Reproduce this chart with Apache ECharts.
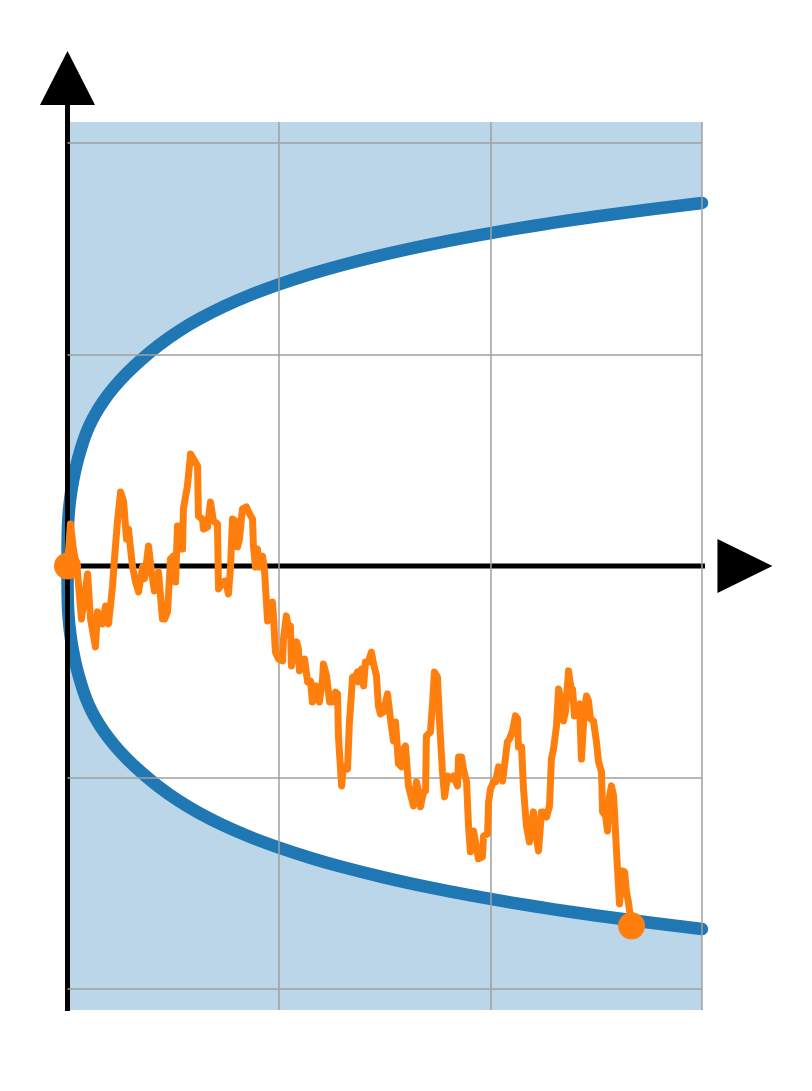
<!DOCTYPE html>
<html>
<head>
<meta charset="utf-8">
<script src="https://cdn.jsdelivr.net/npm/echarts/dist/echarts.min.js"></script>
<style>
  html, body { margin: 0; padding: 0; background: #ffffff; }
  #chart { width: 812px; height: 1091px; }
</style>
</head>
<body>
<div id="chart"></div>
<script>
// ---- data ----
const walkT = [0,0.014,0.028,0.047,0.066,0.095,0.109,0.132,0.142,0.165,0.180,0.194,0.213,0.222,0.236,0.251,0.265,0.279,0.288,0.307,0.322,0.336,0.355,0.364,0.383,0.397,0.411,0.430,0.449,0.459,0.473,0.487,0.501,0.511,0.520,0.534,0.544,0.548,0.567,0.582,0.596,0.615,0.619,0.638,0.643,0.662,0.676,0.690,0.709,0.714,0.733,0.747,0.761,0.771,0.780,0.794,0.804,0.813,0.827,0.846,0.856,0.875,0.879,0.889,0.898,0.908,0.922,0.931,0.946,0.969,0.974,0.983,0.998,1.017,1.021,1.035,1.045,1.054,1.059,1.069,1.083,1.092,1.097,1.111,1.121,1.135,1.149,1.158,1.173,1.187,1.191,1.206,1.210,1.225,1.234,1.239,1.253,1.267,1.277,1.281,1.296,1.305,1.324,1.333,1.348,1.362,1.371,1.376,1.390,1.400,1.409,1.423,1.437,1.447,1.461,1.470,1.480,1.494,1.513,1.527,1.541,1.551,1.565,1.579,1.589,1.598,1.612,1.636,1.650,1.660,1.669,1.683,1.693,1.697,1.716,1.726,1.735,1.749,1.759,1.773,1.783,1.797,1.811,1.825,1.844,1.849,1.863,1.872,1.887,1.896,1.905,1.920,1.929,1.943,1.962,1.967,1.986,1.991,2.000,2.014,2.024,2.038,2.057,2.066,2.080,2.090,2.104,2.118,2.128,2.132,2.147,2.156,2.170,2.184,2.203,2.213,2.227,2.241,2.251,2.265,2.279,2.288,2.298,2.312,2.322,2.336,2.345,2.355,2.369,2.383,2.388,2.397,2.411,2.421,2.430,2.444,2.454,2.463,2.473,2.487,2.501,2.511,2.525,2.530,2.544,2.553,2.563,2.572,2.582,2.596,2.610,2.624,2.634,2.643,2.652,2.667];
const walkW = [0,0.199,0.080,-0.028,-0.251,-0.038,-0.251,-0.383,-0.217,-0.274,-0.189,-0.274,-0.095,0.033,0.208,0.350,0.307,0.128,0.175,0,-0.076,-0.123,-0.005,-0.061,0.095,-0.028,-0.118,-0.028,-0.251,-0.251,-0.217,0.033,0.047,-0.076,0.189,0.189,0.080,0.270,0.378,0.530,0.506,0.473,0.236,0.222,0.175,0.184,0.303,0.213,0.199,-0.109,-0.076,-0.071,-0.132,0,0.222,0.213,0.090,0.128,0.270,0.279,0.255,0.222,0.095,-0.005,0.080,-0.005,0.047,-0.014,-0.260,-0.170,-0.236,-0.407,-0.440,-0.449,-0.345,-0.236,-0.298,-0.284,-0.473,-0.426,-0.359,-0.392,-0.496,-0.463,-0.440,-0.548,-0.544,-0.643,-0.567,-0.615,-0.643,-0.534,-0.463,-0.520,-0.525,-0.643,-0.643,-0.596,-0.605,-0.804,-1.040,-0.950,-0.960,-0.738,-0.525,-0.520,-0.501,-0.548,-0.487,-0.567,-0.454,-0.454,-0.407,-0.463,-0.520,-0.662,-0.700,-0.690,-0.605,-0.723,-0.827,-0.738,-0.936,-0.950,-0.865,-0.851,-1.040,-1.135,-1.021,-1.069,-1.139,-1.069,-1.064,-0.804,-0.785,-0.652,-0.501,-0.525,-0.738,-0.974,-1.092,-0.993,-1.007,-0.993,-1.040,-0.903,-0.903,-0.960,-1.021,-1.229,-1.352,-1.253,-1.305,-1.385,-1.376,-1.277,-1.267,-1.116,-1.054,-1.021,-1.021,-0.950,-1.017,-1.021,-0.832,-0.818,-0.780,-0.709,-0.723,-0.856,-0.856,-1.054,-1.229,-1.305,-1.163,-1.258,-1.348,-1.163,-1.163,-1.187,-1.135,-0.913,-0.865,-0.757,-0.582,-0.643,-0.733,-0.686,-0.496,-0.596,-0.582,-0.709,-0.662,-0.652,-0.913,-0.676,-0.615,-0.638,-0.723,-0.733,-0.832,-0.927,-0.974,-1.163,-1.182,-1.253,-1.087,-1.040,-1.087,-1.352,-1.598,-1.442,-1.447,-1.541,-1.589,-1.702];

// boundary curve (upper branch; lower branch is its mirror)
const boundaryT = [0,0.0005,0.002,0.005,0.01,0.02,0.035,0.05,0.075,0.1,0.13,0.17,0.22,0.28,0.35,0.43,0.52,0.62,0.74,0.87,1.0,1.15,1.3,1.5,1.7,1.9,2.1,2.3,2.5,2.75,3.0];
const boundaryV = [0,0.11,0.184,0.238,0.293,0.368,0.446,0.508,0.591,0.656,0.716,0.780,0.845,0.911,0.977,1.043,1.107,1.167,1.228,1.284,1.332,1.381,1.424,1.474,1.518,1.557,1.592,1.624,1.653,1.686,1.717];

// grid line positions
const gridX = [1, 2, 3];
const gridY = [-2, -1, 1, 2];

// axis ranges
const xRange = [0, 3];
const yRange = [-2.1, 2.1];
// axis arrows (extend beyond plot area)
const yAxisLineEnds = [2.18, -2.105];
const xAxisLineEnd = 3.076;
const yArrowAt = 2.308;
const xArrowAt = 3.203;

const BLUE = '#1f77b4';
const ORANGE = '#ff7f0e';
const SHADE = 'rgba(31,119,180,0.3)';

const upper = boundaryT.map((t, i) => [t, boundaryV[i]]);
const lower = boundaryT.map((t, i) => [t, -boundaryV[i]]);
const walk = walkT.map((t, i) => [t, walkW[i]]);

const SMOOTH = 0.25;

const chart = echarts.init(document.getElementById('chart'), null, { renderer: 'canvas' });
chart.setOption({
  animation: false,
  backgroundColor: '#ffffff',
  grid: { left: 67.5, right: 110, top: 122, bottom: 81, containLabel: false },
  xAxis: { type: 'value', min: xRange[0], max: xRange[1], show: false },
  yAxis: { type: 'value', min: yRange[0], max: yRange[1], show: false },
  series: [
    { type: 'line', data: upper, symbol: 'none', silent: true, z: 1, smooth: SMOOTH,
      lineStyle: { width: 0 }, areaStyle: { color: SHADE, opacity: 1, origin: 'end' } },
    { type: 'line', data: lower, symbol: 'none', silent: true, z: 1, smooth: SMOOTH,
      lineStyle: { width: 0 }, areaStyle: { color: SHADE, opacity: 1, origin: 'start' } },
    { type: 'line', data: [], symbol: 'none', silent: true, z: 2,
      markLine: { silent: true, symbol: ['none', 'none'], label: { show: false },
        lineStyle: { color: '#a0a0a0', width: 1.5, type: 'solid' },
        data: gridX.map(v => ({ xAxis: v })).concat(gridY.map(v => ({ yAxis: v }))) } },
    { type: 'line', data: upper, symbol: 'none', silent: true, z: 3, smooth: SMOOTH,
      lineStyle: { color: BLUE, width: 12.5, cap: 'round', join: 'round' } },
    { type: 'line', data: lower, symbol: 'none', silent: true, z: 3, smooth: SMOOTH,
      lineStyle: { color: BLUE, width: 12.5, cap: 'round', join: 'round' } },
    { type: 'line', data: [[0, yAxisLineEnds[0]], [0, yAxisLineEnds[1]]], symbol: 'none', silent: true, clip: false, z: 4,
      lineStyle: { color: '#000000', width: 5 } },
    { type: 'line', data: [[0, 0], [xAxisLineEnd, 0]], symbol: 'none', silent: true, clip: false, z: 4,
      lineStyle: { color: '#000000', width: 5 } },
    { type: 'scatter', silent: true, clip: false, z: 4,
      itemStyle: { color: '#000000', opacity: 1 },
      data: [
        { value: [0, yArrowAt], symbol: 'triangle', symbolSize: [55, 54], symbolRotate: 0 },
        { value: [xArrowAt, 0], symbol: 'triangle', symbolSize: [54, 55], symbolRotate: -90 }
      ] },
    { type: 'line', data: walk, symbol: 'none', silent: true, z: 5,
      lineStyle: { color: ORANGE, width: 7, cap: 'round', join: 'round' } },
    { type: 'scatter', silent: true, z: 6, symbol: 'circle', symbolSize: 27, clip: false,
      itemStyle: { color: ORANGE, opacity: 1 },
      data: [walk[0], walk[walk.length - 1]] }
  ]
});
</script>
</body>
</html>
